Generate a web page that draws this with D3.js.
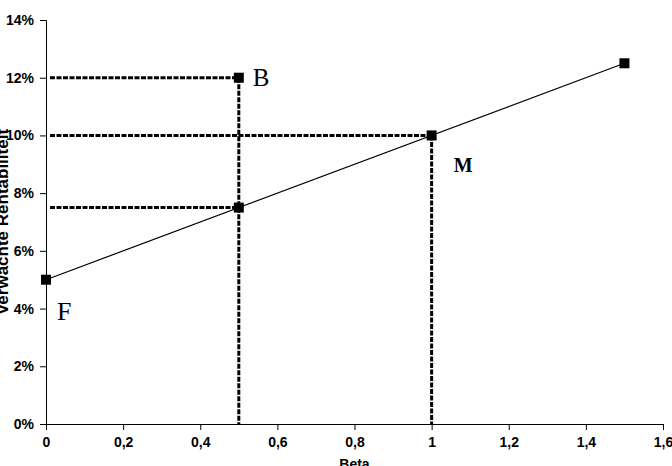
<!DOCTYPE html>
<html>
<head>
<meta charset="utf-8">
<script src="https://cdn.jsdelivr.net/npm/d3@7"></script>
<style>
  body { margin: 0; background: #fff; }
  .tick text { font-family: "Liberation Sans", Arial, sans-serif; font-weight: bold; font-size: 14px; fill: #000; }
  .axis path, .axis line { stroke: #000; }
</style>
</head>
<body>
<div id="chart"></div>
<script>
(function(){
  // security market line
  const lineBeta = [0, 1.5];
  const lineReturn = [0.05, 0.125];

  const pointBeta = [0, 0.5, 1, 0.5, 1.5];
  const pointReturn = [0.05, 0.12, 0.10, 0.075, 0.125];

  // dashed guides: [beta, return], vertical drop to 0 or not
  const guideBeta = [0.5, 1, 0.5];
  const guideReturn = [0.12, 0.10, 0.075];
  const guideVertical = [true, true, false];

  const labelText = ["B", "M", "F"];
  const labelBeta = [0.5, 1, 0];
  const labelReturn = [0.12, 0.10, 0.05];

  const xTicks = [0, 0.2, 0.4, 0.6, 0.8, 1, 1.2, 1.4, 1.6];
  const yTicks = [0, 0.02, 0.04, 0.06, 0.08, 0.10, 0.12, 0.14];

  const width = 672, height = 466;
  const margin = { top: 20, right: 9, bottom: 42, left: 46 };

  const svg = d3.select("#chart").append("svg")
    .attr("width", width)
    .attr("height", height);

  const x = d3.scaleLinear().domain([0, 1.6]).range([margin.left, width - margin.right]);
  const y = d3.scaleLinear().domain([0, 0.14]).range([height - margin.bottom, margin.top]);

  const fmtX = d => d3.format("~g")(d).replace(".", ",");

  svg.append("g")
    .attr("class", "axis")
    .attr("transform", `translate(0,${y(0)})`)
    .call(d3.axisBottom(x).tickValues(xTicks).tickFormat(fmtX).tickSizeOuter(0).tickSize(6).tickPadding(7));

  svg.append("g")
    .attr("class", "axis")
    .attr("transform", `translate(${x(0)},0)`)
    .call(d3.axisLeft(y).tickValues(yTicks).tickFormat(d3.format(".0%")).tickSizeOuter(0).tickSize(6).tickPadding(6));

  // dashed guide lines
  const guides = svg.append("g")
    .attr("stroke", "#000")
    .attr("stroke-width", 3)
    .attr("stroke-dasharray", "5,1.5")
    .attr("fill", "none");

  guideBeta.forEach((b, i) => {
    guides.append("line")
      .attr("x1", x(0) + 4).attr("y1", y(guideReturn[i]))
      .attr("x2", x(b)).attr("y2", y(guideReturn[i]));
    if (guideVertical[i]) {
      guides.append("line")
        .attr("x1", x(b)).attr("y1", y(guideReturn[i]))
        .attr("x2", x(b)).attr("y2", y(0));
    }
  });

  svg.append("line")
    .attr("x1", x(lineBeta[0])).attr("y1", y(lineReturn[0]))
    .attr("x2", x(lineBeta[1])).attr("y2", y(lineReturn[1]))
    .attr("stroke", "#000")
    .attr("stroke-width", 1.2);

  svg.append("g")
    .selectAll("rect")
    .data(pointBeta)
    .enter().append("rect")
    .attr("x", (d, i) => x(d) - 5)
    .attr("y", (d, i) => y(pointReturn[i]) - 5)
    .attr("width", 10)
    .attr("height", 10)
    .attr("fill", "#000");

  const labelOffset = { B: [14, 8, 25], M: [22, 37, 20], F: [11, 40, 26] };
  svg.append("g")
    .selectAll("text")
    .data(labelText)
    .enter().append("text")
    .attr("x", (d, i) => x(labelBeta[i]) + labelOffset[d][0])
    .attr("y", (d, i) => y(labelReturn[i]) + labelOffset[d][1])
    .attr("font-family", "Liberation Serif, Times New Roman, serif")
    .attr("font-size", d => labelOffset[d][2])
    .attr("font-weight", d => d === "M" ? "bold" : "normal")
    .text(d => d);

  svg.append("text")
    .attr("x", x(0.8))
    .attr("y", height + 3)
    .attr("text-anchor", "middle")
    .attr("font-family", "Liberation Sans, Arial, sans-serif")
    .attr("font-weight", "bold")
    .attr("font-size", 14)
    .text("Beta");

  svg.append("text")
    .attr("transform", `translate(8,${y(0.07)}) rotate(-90)`)
    .attr("text-anchor", "middle")
    .attr("font-family", "Liberation Sans, Arial, sans-serif")
    .attr("font-weight", "bold")
    .attr("font-size", 17)
    .text("Verwachte Rentabiliteit");
})();
</script>
</body>
</html>
